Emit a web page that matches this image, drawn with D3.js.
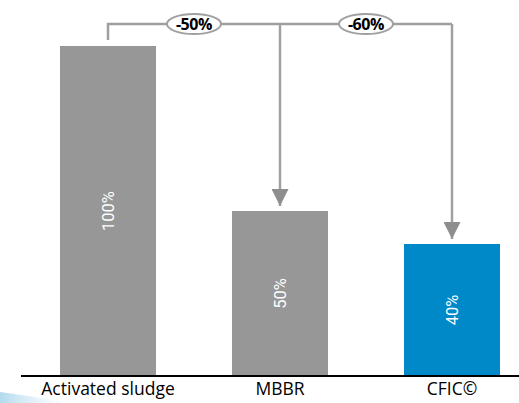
<!DOCTYPE html>
<html>
<head>
<meta charset="utf-8">
<script src="https://cdn.jsdelivr.net/npm/d3@7"></script>
<style>
  html, body { margin: 0; padding: 0; background: #fff; }
  svg { display: block; font-family: "Open Sans", "Noto Sans", sans-serif; }
</style>
</head>
<body>
<div id="chart"></div>
<script>
const categories = ["Activated sludge", "MBBR", "CFIC©"];
const values = [100, 50, 40];
const valueLabels = ["100%", "50%", "40%"];
const barColors = ["#979797", "#979797", "#0089c9"];
const reductions = ["-50%", "-60%"];

const W = 519, H = 403;
const baseY = 376, topY = 46, bracketY = 24;

const svg = d3.select("#chart")
  .append("svg")
  .attr("width", W)
  .attr("height", H);

// faint decorative swoosh bottom-left
const grad = svg.append("defs").append("linearGradient")
  .attr("id", "sw").attr("x1", "0").attr("x2", "1");
grad.append("stop").attr("offset", "0").attr("stop-color", "#9fd0ea").attr("stop-opacity", 0.8);
grad.append("stop").attr("offset", "1").attr("stop-color", "#d8eef8").attr("stop-opacity", 0);
svg.append("path")
  .attr("d", "M0,392 Q30,396 70,403 L0,403 Z")
  .attr("fill", "url(#sw)");

const x = d3.scaleBand()
  .domain(categories)
  .range([22, 538])
  .paddingInner(0.442)
  .paddingOuter(0.221);

const y = d3.scaleLinear()
  .domain([0, 100])
  .range([baseY, topY]);

// bars
svg.selectAll("rect.bar")
  .data(categories)
  .join("rect")
  .attr("class", "bar")
  .attr("x", d => x(d))
  .attr("width", x.bandwidth())
  .attr("y", (d, i) => y(values[i]))
  .attr("height", (d, i) => baseY - y(values[i]))
  .attr("fill", (d, i) => barColors[i]);

// value labels, rotated inside bars
svg.selectAll("text.val")
  .data(categories)
  .join("text")
  .attr("class", "val")
  .attr("transform", (d, i) => {
    const cx = x(d) + x.bandwidth() / 2;
    const cy = (y(values[i]) + baseY) / 2;
    return `translate(${cx},${cy}) rotate(-90)`;
  })
  .attr("text-anchor", "middle")
  .attr("dy", "0.35em")
  .attr("fill", "#fff")
  .style("font-family", "Roboto, 'Open Sans', sans-serif")
  .style("font-size", "16.5px")
  .text((d, i) => valueLabels[i]);

// baseline axis
const axis = svg.append("g")
  .attr("transform", `translate(0,${baseY})`)
  .call(d3.axisBottom(x).tickSize(0).tickPadding(7));
axis.select(".domain").remove();
axis.selectAll("text")
  .style("font-family", "'Open Sans', 'Noto Sans', sans-serif")
  .style("font-size", "17.5px")
  .attr("fill", "#000");
svg.append("line")
  .attr("x1", 21).attr("x2", W)
  .attr("y1", baseY).attr("y2", baseY)
  .attr("stroke", "#000").attr("stroke-width", 2);

// bracket with arrows
const cx = categories.map(d => x(d) + x.bandwidth() / 2);
const grey = "#a0a0a0";

const defs = svg.select("defs");
defs.append("marker")
  .attr("id", "arrow")
  .attr("viewBox", "0 0 10 10")
  .attr("refX", 10).attr("refY", 5)
  .attr("markerUnits", "userSpaceOnUse")
  .attr("markerWidth", 17).attr("markerHeight", 17)
  .attr("orient", "auto")
  .append("path")
  .attr("d", "M0,0 L10,5 L0,10 Z")
  .attr("fill", "#8e8e8e");

svg.append("path")
  .attr("d", `M${cx[0]},40 V${bracketY} H${cx[2]}`)
  .attr("fill", "none")
  .attr("stroke", grey)
  .attr("stroke-width", 2.5);

[1, 2].forEach(i => {
  svg.append("line")
    .attr("x1", cx[i]).attr("x2", cx[i])
    .attr("y1", bracketY).attr("y2", y(values[i]) - 5)
    .attr("stroke", grey)
    .attr("stroke-width", 2.5)
    .attr("marker-end", "url(#arrow)");
});

// reduction badges
const badges = svg.selectAll("g.badge")
  .data(reductions)
  .join("g")
  .attr("class", "badge")
  .attr("transform", (d, i) => `translate(${(cx[i] + cx[i + 1]) / 2},${bracketY})`);

badges.append("ellipse")
  .attr("rx", 27).attr("ry", 10)
  .attr("fill", "#fff")
  .attr("stroke", grey)
  .attr("stroke-width", 2);

badges.append("text")
  .attr("text-anchor", "middle")
  .attr("dy", "0.36em")
  .style("font-size", "16px")
  .style("font-weight", "bold")
  .style("letter-spacing", "-0.4px")
  .text(d => d);
</script>
</body>
</html>
